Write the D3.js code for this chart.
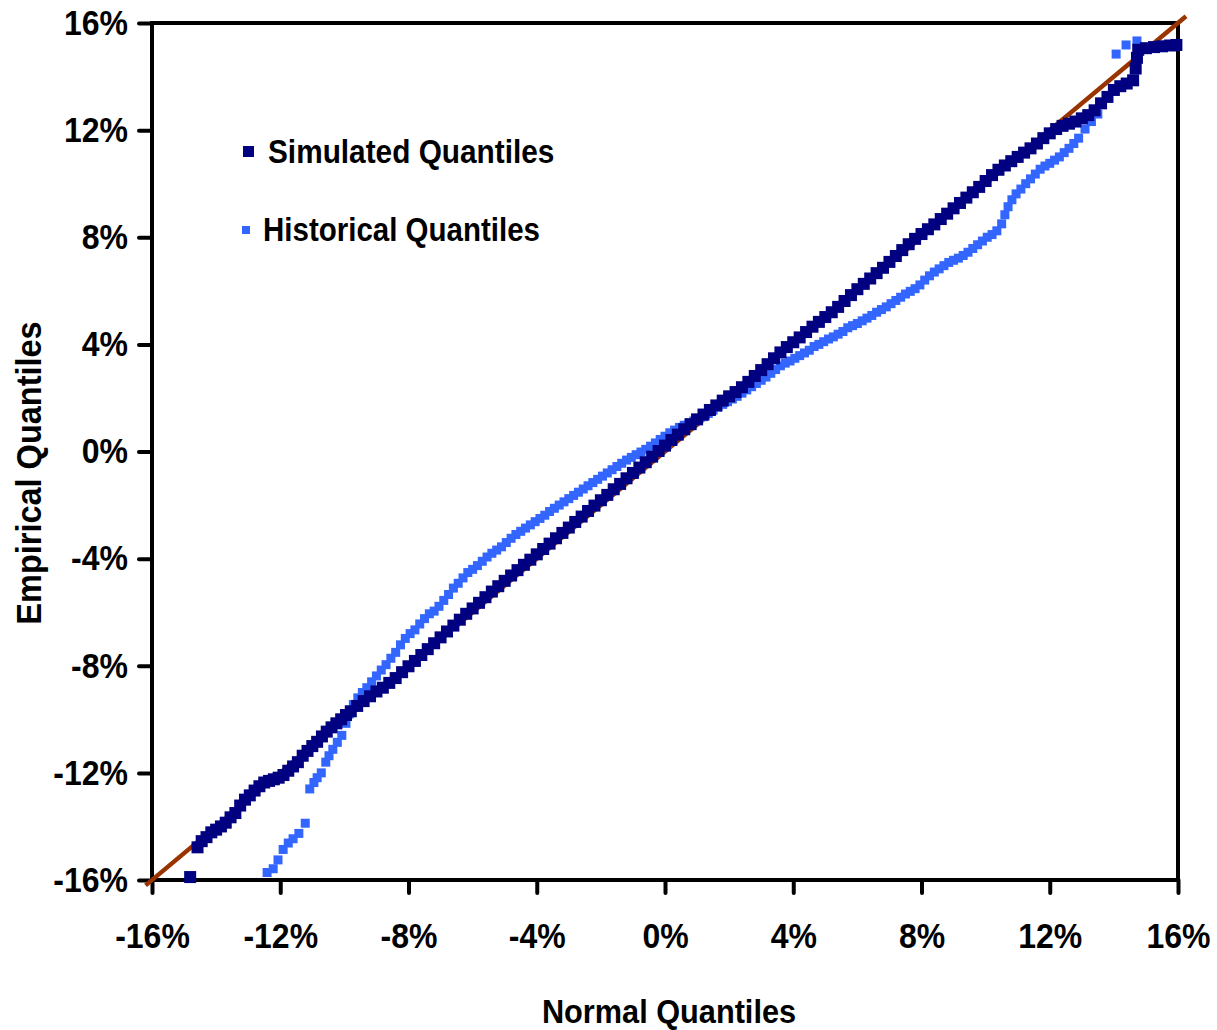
<!DOCTYPE html>
<html>
<head>
<meta charset="utf-8">
<script src="https://cdn.jsdelivr.net/npm/d3@7"></script>
<style>
  body { margin: 0; background: #fff; }
  text { font-family: 'Liberation Sans', Arial, sans-serif; font-weight: bold; fill: #000; }
</style>
</head>
<body>
<div id="chart"></div>
<script>
// normal quantile (%) vs empirical quantile (%)
const simulated = [
  [-14.81,-15.89],[-14.58,-14.78],[-14.45,-14.55],[-14.30,-14.40],[-14.15,-14.22],[-14.00,-14.12],
  [-13.85,-14.00],[-13.70,-13.86],[-13.55,-13.66],[-13.40,-13.50],[-13.25,-13.22],[-13.10,-13.00],
  [-12.95,-12.84],[-12.80,-12.66],[-12.65,-12.50],[-12.50,-12.36],[-12.35,-12.30],[-12.20,-12.24],
  [-12.05,-12.18],[-11.90,-12.08],[-11.75,-11.92],[-11.60,-11.76],[-11.45,-11.60],[-11.30,-11.36],
  [-11.15,-11.18],[-11.00,-11.00],[-10.85,-10.84],[-10.70,-10.64],[-10.55,-10.46],[-10.40,-10.30],
  [-10.25,-10.15],[-10.10,-10.00],[-9.95,-9.84],[-9.80,-9.70],[-9.60,-9.50],[-9.40,-9.32],
  [-9.20,-9.14],[-9.00,-8.96],[-8.80,-8.82],[-8.60,-8.64],[-8.40,-8.46],[-8.20,-8.24],
  [-8.00,-8.02],[-7.80,-7.82],[-7.60,-7.60],[-7.40,-7.38],[-7.20,-7.16],[-7.00,-6.94],
  [-6.80,-6.72],[-6.60,-6.50],[-6.40,-6.28],[-6.20,-6.06],[-6.00,-5.86],[-5.80,-5.65],
  [-5.60,-5.44],[-5.40,-5.23],[-5.20,-5.03],[-5.00,-4.83],[-4.80,-4.63],[-4.60,-4.43],
  [-4.40,-4.23],[-4.20,-4.04],[-4.00,-3.84],[-3.80,-3.64],[-3.60,-3.44],[-3.40,-3.24],
  [-3.20,-3.04],[-3.00,-2.84],[-2.80,-2.63],[-2.60,-2.43],[-2.40,-2.22],[-2.20,-2.02],
  [-2.00,-1.82],[-1.80,-1.62],[-1.60,-1.41],[-1.40,-1.21],[-1.20,-1.00],[-1.00,-0.80],
  [-0.80,-0.60],[-0.60,-0.40],[-0.40,-0.19],[-0.20,0.02],[0.00,0.22],[0.20,0.43],
  [0.40,0.63],[0.60,0.83],[0.80,1.02],[1.00,1.20],[1.20,1.38],[1.40,1.55],
  [1.60,1.72],[1.80,1.90],[2.00,2.06],[2.20,2.22],[2.40,2.40],[2.60,2.60],
  [2.80,2.82],[3.00,3.04],[3.20,3.26],[3.40,3.48],[3.60,3.70],[3.80,3.90],
  [4.00,4.08],[4.20,4.26],[4.40,4.46],[4.60,4.66],[4.80,4.84],[5.00,5.02],
  [5.20,5.20],[5.40,5.40],[5.60,5.62],[5.80,5.84],[6.00,6.06],[6.20,6.26],
  [6.40,6.46],[6.60,6.66],[6.80,6.86],[7.00,7.08],[7.20,7.30],[7.40,7.52],
  [7.60,7.74],[7.80,7.94],[8.00,8.12],[8.20,8.30],[8.40,8.48],[8.60,8.68],
  [8.80,8.88],[9.00,9.08],[9.20,9.28],[9.40,9.48],[9.60,9.68],[9.80,9.88],
  [10.00,10.10],[10.20,10.32],[10.40,10.52],[10.60,10.68],[10.80,10.84],[11.00,11.00],
  [11.20,11.16],[11.40,11.32],[11.60,11.50],[11.80,11.70],[12.00,11.88],[12.20,12.04],
  [12.40,12.16],[12.60,12.24],[12.80,12.32],[13.00,12.44],[13.20,12.56],[13.40,12.74],
  [13.60,13.00],[13.80,13.24],[14.00,13.50],[14.20,13.64],[14.40,13.74],[14.60,13.86],
  [14.68,14.30],[14.72,14.70],[14.76,15.00],[15.00,15.06],[15.25,15.10],[15.50,15.13],
  [15.75,15.16],[15.95,15.18]
];

const historical = [
  [-12.41,-15.72],[-12.22,-15.58],[-12.07,-15.25],[-11.91,-14.86],[-11.75,-14.62],[-11.60,-14.46],
  [-11.42,-14.26],[-11.22,-13.88],[-11.08,-12.60],[-10.95,-12.36],[-10.85,-12.18],[-10.72,-12.00],
  [-10.58,-11.60],[-10.48,-11.36],[-10.36,-11.12],[-10.22,-10.86],[-10.08,-10.60],[-9.95,-10.15],
  [-9.85,-9.80],[-9.72,-9.45],[-9.58,-9.20],[-9.44,-9.00],[-9.30,-8.82],[-9.15,-8.60],
  [-9.00,-8.38],[-8.85,-8.16],[-8.70,-7.96],[-8.55,-7.72],[-8.40,-7.50],[-8.25,-7.22],
  [-8.10,-6.98],[-7.95,-6.80],[-7.80,-6.66],[-7.65,-6.44],[-7.50,-6.24],[-7.35,-6.06],
  [-7.20,-5.96],[-7.05,-5.78],[-6.90,-5.56],[-6.75,-5.34],[-6.60,-5.10],[-6.45,-4.92],
  [-6.30,-4.72],[-6.15,-4.52],[-6.00,-4.40],[-5.85,-4.26],[-5.70,-4.10],[-5.55,-3.94],
  [-5.40,-3.80],[-5.25,-3.68],[-5.10,-3.56],[-4.95,-3.40],[-4.80,-3.24],[-4.65,-3.10],
  [-4.50,-2.98],[-4.35,-2.86],[-4.20,-2.74],[-4.05,-2.62],[-3.90,-2.50],[-3.75,-2.38],
  [-3.60,-2.24],[-3.45,-2.12],[-3.30,-2.00],[-3.15,-1.88],[-3.00,-1.76],[-2.85,-1.64],
  [-2.70,-1.52],[-2.55,-1.40],[-2.40,-1.28],[-2.25,-1.16],[-2.10,-1.04],[-1.95,-0.92],
  [-1.80,-0.80],[-1.65,-0.68],[-1.50,-0.56],[-1.35,-0.44],[-1.20,-0.32],[-1.05,-0.22],
  [-0.90,-0.12],[-0.75,-0.02],[-0.60,0.08],[-0.45,0.20],[-0.30,0.32],[-0.15,0.45],
  [0.00,0.57],[0.15,0.70],[0.30,0.80],[0.45,0.90],[0.60,0.98],[0.75,1.06],
  [0.90,1.14],[1.05,1.22],[1.20,1.30],[1.35,1.42],[1.50,1.54],[1.65,1.66],
  [1.80,1.76],[1.95,1.86],[2.10,1.96],[2.25,2.06],[2.40,2.18],[2.55,2.30],
  [2.70,2.42],[2.85,2.54],[3.00,2.66],[3.15,2.78],[3.30,2.92],[3.45,3.06],
  [3.60,3.20],[3.75,3.30],[3.90,3.38],[4.05,3.48],[4.20,3.58],[4.35,3.68],
  [4.50,3.78],[4.65,3.92],[4.80,4.00],[4.95,4.10],[5.10,4.20],[5.25,4.28],
  [5.40,4.38],[5.55,4.48],[5.70,4.62],[5.85,4.70],[6.00,4.78],[6.15,4.88],
  [6.30,4.98],[6.45,5.08],[6.60,5.20],[6.75,5.30],[6.90,5.40],[7.05,5.52],
  [7.20,5.64],[7.35,5.76],[7.50,5.88],[7.65,5.98],[7.80,6.08],[7.95,6.22],
  [8.10,6.40],[8.25,6.56],[8.40,6.70],[8.55,6.82],[8.70,6.94],[8.85,7.06],
  [9.00,7.14],[9.15,7.22],[9.30,7.32],[9.45,7.44],[9.60,7.58],[9.75,7.72],
  [9.90,7.86],[10.05,8.00],[10.20,8.10],[10.35,8.24],[10.50,8.50],[10.60,8.84],
  [10.70,9.14],[10.82,9.40],[10.95,9.62],[11.10,9.80],[11.25,10.00],[11.40,10.18],
  [11.55,10.36],[11.70,10.54],[11.85,10.66],[12.00,10.76],[12.15,10.88],[12.30,11.00],
  [12.45,11.16],[12.60,11.32],[12.75,11.50],[12.90,11.70],[13.10,12.04],[13.30,12.32],
  [13.50,12.60],[14.07,14.84],[14.38,15.18],[14.72,15.33]
];

// 45 degree reference line, runs a little past the plot box
const refLine = [-16.2, 16.25];

const xTicks = [-16, -12, -8, -4, 0, 4, 8, 12, 16];
const yTicks = [-16, -12, -8, -4, 0, 4, 8, 12, 16];

const seriesNames = ['Simulated Quantiles', 'Historical Quantiles'];
const seriesColors = ['#000080', '#3366FF'];

let width = 1217, height = 1030;
let margin = {top: 23, right: 39, bottom: 150, left: 152};
// the original text is a little taller than it is wide
let stretch = 'scale(1,1.1)';

let svg = d3.select('#chart')
  .append('svg')
    .attr('width', width)
    .attr('height', height)
    .style('display', 'block');

svg.append('rect')
  .attr('width', width)
  .attr('height', height)
  .attr('fill', '#fff');

let x = d3.scaleLinear()
  .domain([-16, 16])
  .range([margin.left, width - margin.right]);

let y = d3.scaleLinear()
  .domain([-16, 16])
  .range([height - margin.bottom, margin.top]);

// Y axis
let yAxis = svg.append('g')
  .attr('transform', 'translate(' + margin.left + ',0)')
  .call(d3.axisLeft(y).tickValues(yTicks).tickSize(13).tickSizeOuter(0).tickPadding(11)
    .tickFormat(d => d + '%'));

// X axis
let xAxis = svg.append('g')
  .attr('transform', 'translate(0,' + (height - margin.bottom) + ')')
  .call(d3.axisBottom(x).tickValues(xTicks).tickSize(13).tickSizeOuter(0).tickPadding(26)
    .tickFormat(d => d + '%'));

[yAxis, xAxis].forEach(g => {
  g.select('.domain').remove();
  g.selectAll('.tick line')
    .attr('stroke', '#000')
    .attr('stroke-width', 4)
    .attr('stroke-linecap', 'round');
  g.selectAll('.tick text')
    .attr('transform', stretch)
    .style('font-size', '32px')
    .style('font-weight', 'bold')
    .style('font-family', 'Liberation Sans, Arial, sans-serif');
});

// plot box
svg.append('rect')
  .attr('x', x(-16))
  .attr('y', y(16))
  .attr('width', x(16) - x(-16))
  .attr('height', y(-16) - y(16))
  .attr('fill', 'none')
  .attr('stroke', '#000')
  .attr('stroke-width', 4);

// reference line
svg.append('line')
  .attr('x1', x(refLine[0]))
  .attr('y1', y(refLine[0]))
  .attr('x2', x(refLine[1]))
  .attr('y2', y(refLine[1]))
  .attr('stroke', '#993300')
  .attr('stroke-width', 4.5);

// historical squares
let hs = 9;
svg.append('g')
  .selectAll('rect')
  .data(historical)
  .enter()
  .append('rect')
    .attr('x', d => x(d[0]) - hs / 2)
    .attr('y', d => y(d[1]) - hs / 2)
    .attr('width', hs)
    .attr('height', hs)
    .attr('fill', seriesColors[1]);

// simulated squares on top
let ss = 12;
svg.append('g')
  .selectAll('rect')
  .data(simulated)
  .enter()
  .append('rect')
    .attr('x', d => x(d[0]) - ss / 2)
    .attr('y', d => y(d[1]) - ss / 2)
    .attr('width', ss)
    .attr('height', ss)
    .attr('fill', seriesColors[0]);

// legend
let legend = [
  {name: seriesNames[0], color: seriesColors[0], size: 11, mx: 248.5, my: 151.5, tx: 268, ty: 163, fs: 29.8},
  {name: seriesNames[1], color: seriesColors[1], size: 8, mx: 246, my: 230, tx: 263, ty: 241, fs: 29.5}
];
legend.forEach(l => {
  svg.append('rect')
    .attr('x', l.mx - l.size / 2)
    .attr('y', l.my - l.size / 2)
    .attr('width', l.size)
    .attr('height', l.size)
    .attr('fill', l.color);
  svg.append('text')
    .attr('transform', 'translate(' + l.tx + ',' + l.ty + ')' + stretch)
    .style('font-size', l.fs + 'px')
    .text(l.name);
});

// X label
svg.append('text')
  .attr('text-anchor', 'middle')
  .attr('transform', 'translate(669,1023)' + stretch)
  .style('font-size', '30.7px')
  .text('Normal Quantiles');

// Y label
svg.append('text')
  .attr('text-anchor', 'middle')
  .attr('transform', 'translate(41,473)rotate(-90)' + stretch)
  .style('font-size', '32.5px')
  .text('Empirical Quantiles');
</script>
</body>
</html>
